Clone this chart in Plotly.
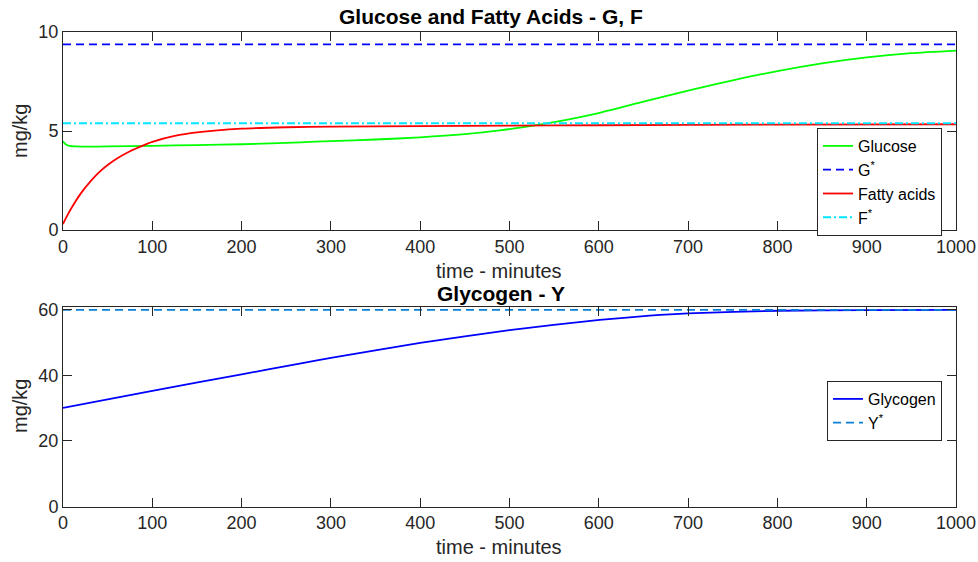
import plotly.graph_objects as go

# ---------------- data ----------------
t_glucose = [0, 3, 6, 10, 15, 25, 50, 100, 150, 200, 266, 300, 350, 400, 450, 489, 523, 550,
             601, 650, 700, 750, 800, 850, 900, 950, 1000]
glucose = [4.48, 4.33, 4.26, 4.23, 4.22, 4.21, 4.22, 4.25, 4.29, 4.33, 4.43, 4.49, 4.57, 4.68,
           4.84, 5.03, 5.25, 5.45, 5.92, 6.48, 7.04, 7.56, 8.03, 8.42, 8.72, 8.93, 9.06]

t_fatty = [0, 5, 10, 20, 30, 40, 50, 60, 75, 88, 100, 125, 150, 200, 250, 300, 400, 500,
           600, 800, 1000]
fatty = [0.3, 0.75, 1.15, 1.85, 2.42, 2.9, 3.28, 3.6, 3.98, 4.24, 4.45, 4.75, 4.93, 5.12,
         5.19, 5.22, 5.25, 5.27, 5.29, 5.32, 5.34]

t_glycogen = [0, 100, 200, 265, 300, 400, 500, 601, 657, 700, 800, 900, 1000]
glycogen = [30.1, 35.3, 40.3, 43.6, 45.3, 49.9, 53.8, 56.9, 58.2, 58.9, 59.7, 59.9, 60.0]

t_span = [0, 1000]
G_star = 9.37
F_star = 5.39
Y_star = 60.0

x_ticks = [0, 100, 200, 300, 400, 500, 600, 700, 800, 900, 1000]
y1_ticks = [0, 5, 10]
y2_ticks = [0, 20, 40, 60]

# ---------------- layout helpers ----------------
W, H = 978, 562
FONT = "Liberation Sans, Arial, Helvetica, sans-serif"
AX = "#262626"


def px(x):
    return x / W


def py(y):
    return 1 - y / H


fig = go.Figure()

# top panel
fig.add_trace(go.Scatter(x=t_glucose, y=glucose, mode="lines", name="Glucose",
                         line=dict(color="#00ff00", width=1.8, shape="spline", smoothing=0.6),
                         xaxis="x", yaxis="y", legend="legend"))
fig.add_trace(go.Scatter(x=t_span, y=[G_star, G_star], mode="lines", name="G<sup>*</sup>",
                         line=dict(color="#0000ff", width=1.7, dash="8px,5px"),
                         xaxis="x", yaxis="y", legend="legend"))
fig.add_trace(go.Scatter(x=t_fatty, y=fatty, mode="lines", name="Fatty acids",
                         line=dict(color="#ff0000", width=1.8, shape="spline", smoothing=0.6),
                         xaxis="x", yaxis="y", legend="legend"))
fig.add_trace(go.Scatter(x=t_span, y=[F_star, F_star], mode="lines", name="F<sup>*</sup>",
                         line=dict(color="#00e5ff", width=2.0, dash="8px,3px,2px,3px"),
                         xaxis="x", yaxis="y", legend="legend"))

# bottom panel
fig.add_trace(go.Scatter(x=t_glycogen, y=glycogen, mode="lines", name="Glycogen",
                         line=dict(color="#0000ff", width=1.8, shape="spline", smoothing=0.6),
                         xaxis="x2", yaxis="y2", legend="legend2"))
fig.add_trace(go.Scatter(x=t_span, y=[Y_star, Y_star], mode="lines", name="Y<sup>*</sup>",
                         line=dict(color="#0a7fd6", width=1.7, dash="8px,5px"),
                         xaxis="x2", yaxis="y2", legend="legend2"))

axis_common = dict(showline=True, linecolor=AX, linewidth=1, mirror="allticks",
                   ticks="inside", ticklen=9, tickcolor=AX, tickwidth=1,
                   showgrid=False, zeroline=False, automargin=False,
                   tickfont=dict(family=FONT, size=18, color=AX))

xdom = [px(63), px(956)]

fig.update_layout(
    width=W, height=H,
    margin=dict(l=0, r=0, t=0, b=0, autoexpand=False),
    paper_bgcolor="white", plot_bgcolor="white",
    font=dict(family=FONT, color=AX),
    xaxis=dict(domain=xdom, range=[0, 1000], tickvals=x_ticks, anchor="y", **axis_common),
    yaxis=dict(domain=[py(230), py(32)], range=[0, 10], tickvals=y1_ticks, anchor="x",
               **axis_common),
    xaxis2=dict(domain=xdom, range=[0, 1000], tickvals=x_ticks, anchor="y2", **axis_common),
    yaxis2=dict(domain=[py(506.5), py(306.5)], range=[0, 61.0], tickvals=y2_ticks,
                anchor="x2", **axis_common),
    legend=dict(x=px(817), y=py(128), xanchor="left", yanchor="top",
                bgcolor="white", bordercolor=AX, borderwidth=1,
                font=dict(family=FONT, size=16, color="#000000"),
                itemwidth=30, tracegroupgap=0),
    legend2=dict(x=px(827), y=py(381), xanchor="left", yanchor="top",
                 bgcolor="white", bordercolor=AX, borderwidth=1,
                 font=dict(family=FONT, size=16, color="#000000"),
                 itemwidth=30, tracegroupgap=0),
    showlegend=True,
)

ann = []
# titles
ann.append(dict(text="<b>Glucose and Fatty Acids - G, F</b>", x=px(491), y=py(17),
                font=dict(family=FONT, size=21, color="#000000")))
ann.append(dict(text="<b>Glycogen - Y</b>", x=px(501), y=py(293),
                font=dict(family=FONT, size=21, color="#000000")))
# x labels
ann.append(dict(text="time - minutes", x=px(499), y=py(271),
                font=dict(family=FONT, size=20, color=AX)))
ann.append(dict(text="time - minutes", x=px(499), y=py(547),
                font=dict(family=FONT, size=20, color=AX)))
# y labels
ann.append(dict(text="mg/kg", x=px(20), y=py(131), textangle=-90,
                font=dict(family=FONT, size=20, color=AX)))
ann.append(dict(text="mg/kg", x=px(20), y=py(406), textangle=-90,
                font=dict(family=FONT, size=20, color=AX)))
for a in ann:
    a.update(xref="paper", yref="paper", showarrow=False, xanchor="center", yanchor="middle")
fig.update_layout(annotations=ann)

fig.write_html("out.html")
